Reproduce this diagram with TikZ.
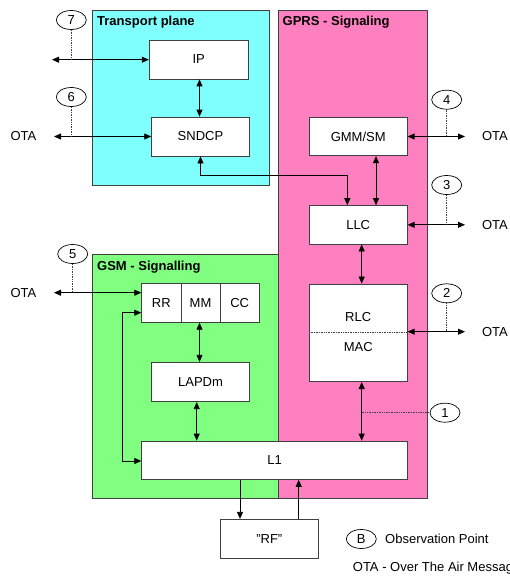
\documentclass[tikz,border=0pt]{standalone}
\usepackage{fontspec}
\setmainfont{Liberation Sans}
\usetikzlibrary{arrows.meta,shapes.geometric,calc}
\definecolor{tpcyan}{HTML}{80FFFF}
\definecolor{gprspink}{HTML}{FF80C0}
\definecolor{gsmgreen}{HTML}{80FF80}
\definecolor{edge}{HTML}{404040}
\begin{document}
\begin{tikzpicture}[x=1pt,y=-1pt,
  font=\fontsize{13}{15}\selectfont,
  plane/.style={draw=edge,line width=0.8pt},
  lbl/.style={font=\fontsize{13}{15}\selectfont\bfseries,anchor=west,inner sep=0pt},
  box/.style={draw=edge,fill=white,line width=0.8pt,inner sep=0pt},
  obs/.style={draw=black,fill=white,ellipse,minimum width=30pt,minimum height=19pt,inner sep=0pt,line width=0.7pt},
  arr/.style={line width=0.8pt,{Triangle[length=7pt,width=6pt]}-{Triangle[length=7pt,width=6pt]}},
  arrone/.style={line width=0.8pt,-{Triangle[length=7pt,width=6pt]}},
  dotl/.style={densely dotted,line width=0.7pt,draw=black!75},
  ota/.style={inner sep=0pt}]
\useasboundingbox (0,0) rectangle (510,576);
\clip (0,0) rectangle (510,576);
% planes
\draw[plane,fill=tpcyan] (92.5,10.5) rectangle (269,185);
\draw[plane,fill=gsmgreen] (92.5,254) rectangle (278,498.7);
\draw[plane,fill=gprspink] (278,10.5) rectangle (427,498.7);
\node[lbl] (tplbl) at (97,22) {Transport plane};
\node[lbl] (gprslbl) at (282.5,22) {GPRS - Signaling};
\node[lbl] (gsmlbl) at (97,267) {GSM - Signalling};
% boxes
\node[box,minimum width=99pt,minimum height=39pt] (IP) at (198.7,59.4) {IP};
\node[box,minimum width=97.6pt,minimum height=39pt] (SNDCP) at (200.5,136.5) {SNDCP};
\node[box,minimum width=98pt,minimum height=38.5pt] (GMM) at (358.2,136.5) {GMM/SM};
\node[box,minimum width=98pt,minimum height=38.5pt] (LLC) at (358.2,224.8) {LLC};
\node[box,minimum width=98pt,minimum height=97.7pt] (RLC) at (358.2,332.8) {};
\draw[dotl] (RLC.west) -- (RLC.east);
\node (rlctxt) at (358.2,316.7) {RLC};
\node (mactxt) at (358.2,347.3) {MAC};
\node[box,minimum width=265.6pt,minimum height=38.3pt] (L1) at (274.5,460.2) {L1};
\node[box,minimum width=39.3pt,minimum height=39pt] (RR) at (161.35,302.8) {RR};
\node[box,minimum width=39pt,minimum height=39pt] (MM) at (200.5,302.8) {MM};
\node[box,minimum width=39.3pt,minimum height=39pt] (CC) at (239.65,302.8) {CC};
\node[box,minimum width=97.6pt,minimum height=39.4pt] (LAPDm) at (200.5,382) {LAPDm};
\node[box,minimum width=98.7pt,minimum height=39.4pt] (RF) at (269.3,539) {"RF"};
% internal arrows
\draw[arr] ([xshift=0.8pt]IP.south) -- ([xshift=-1pt]SNDCP.north);
\draw[arr] (GMM.south -| 376,0) -- (LLC.north -| 376,0);
\draw[arr] (LLC.south -| 361.7,0) -- (RLC.north -| 361.7,0);
\draw[arr] (RLC.south -| 361.7,0) -- (L1.north -| 361.7,0);
\draw[arr] ([xshift=-1pt]MM.south) -- ([xshift=-1pt]LAPDm.north);
\draw[arr] ([xshift=-3.8pt]LAPDm.south) -- (L1.north -| 196.7,0);
\draw[arr] (SNDCP.south) -- (200.5,175) -- (347.3,175) -- (LLC.north -| 347.3,0);
\draw[arr] (RR.west |- 0,312.7) -- (122.3,312.7) -- (122.3,461) -- (L1.west |- 0,461);
\draw[arrone] (L1.south -| 240,0) -- (RF.north -| 240,0);
\draw[arrone] (RF.north -| 298.7,0) -- (L1.south -| 298.7,0);
% OTA labels and end points
\coordinate (e7) at (52,59.7);
\coordinate (e6) at (54,136.5);
\coordinate (e5) at (54,292.7);
\coordinate (e4) at (465,136.5);
\coordinate (e3) at (465,224.8);
\coordinate (e2) at (465,331.7);
\node[ota] (ota6) at (23.5,136.5) {OTA};
\node[ota] (ota5) at (23.5,292.7) {OTA};
\node[ota] (ota4) at (495,136.5) {OTA};
\node[ota] (ota3) at (495,224.8) {OTA};
\node[ota] (ota2) at (495,331.7) {OTA};
\draw[arr] (e7) -- (IP.west |- e7);
\draw[arr] (e6) -- (SNDCP.west);
\draw[arr] (e5) -- (RR.west |- e5);
\draw[arr] (GMM.east) -- (e4);
\draw[arr] (LLC.east) -- (e3);
\draw[arr] (RLC.east |- e2) -- (e2);
% observation points
\node[obs] (c7) at (71.3,20) {7};
\node[obs] (c6) at (71.3,97) {6};
\node[obs] (c5) at (72.7,254) {5};
\node[obs] (c4) at (446.7,99.7) {4};
\node[obs] (c3) at (446.7,185) {3};
\node[obs] (c2) at (446.7,293.3) {2};
\node[obs] (c1) at (445,412.7) {1};
\draw[dotl] (c7.south) -- (c7.south |- e7);
\draw[dotl] (c6.south) -- (c6.south |- e6);
\draw[dotl] (c5.south) -- (c5.south |- e5);
\draw[dotl] (c4.south) -- (c4.south |- e4);
\draw[dotl] (c3.south) -- (c3.south |- e3);
\draw[dotl] (c2.south) -- (c2.south |- e2);
\coordinate (m1) at (361.7,412.7);
\draw[dotl] (m1) -- (c1.west);
% legend
\node[obs] (cB) at (361.3,539) {B};
\node[anchor=west,inner sep=0pt] (legB) at (385,539) {Observation Point};
\node[anchor=west,inner sep=0pt] (legOTA) at (352.7,568.3) {OTA - Over The Air Messages};
\end{tikzpicture}
\end{document}
